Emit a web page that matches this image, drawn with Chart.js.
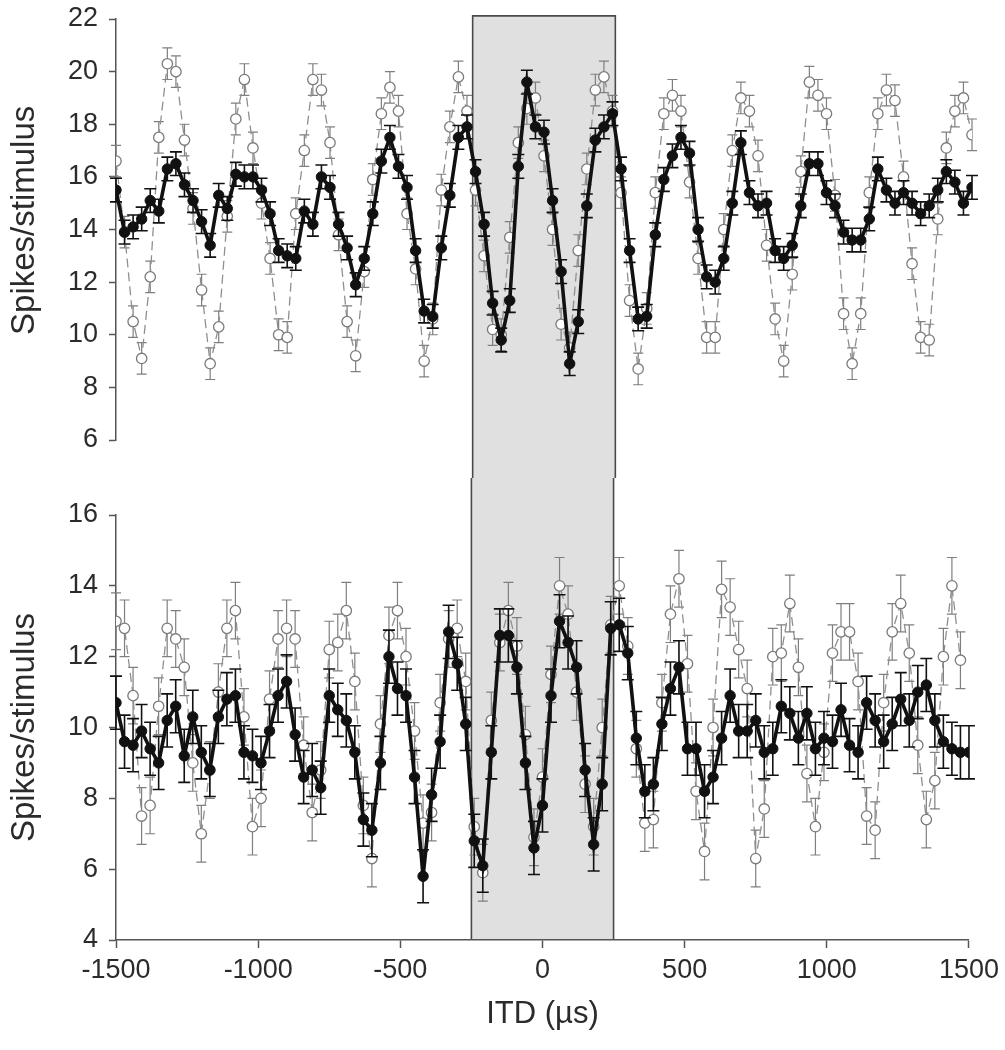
<!DOCTYPE html>
<html>
<head>
<meta charset="utf-8">
<script src="https://cdn.jsdelivr.net/npm/chart.js@4.4.0/dist/chart.umd.min.js"></script>
<style>
body { margin: 0; background: #fff; }
#wrap { position: relative; width: 1005px; height: 1050px; }
canvas { position: absolute; left: 0; }
#topChart { top: 0; }
#bottomChart { top: 478px; }
</style>
</head>
<body>
<div id="wrap">
<canvas id="topChart" width="1005" height="478"></canvas>
<canvas id="bottomChart" width="1005" height="572"></canvas>
</div>
<script>
// ITD values (microseconds), one per measured point
var itd = [
  -1500, -1470, -1440, -1410, -1380, -1350, -1320, -1290, -1260, -1230,
  -1200, -1170, -1140, -1110, -1080, -1050, -1020, -990, -960, -930,
  -900, -870, -840, -810, -780, -750, -720, -690, -660, -630,
  -600, -570, -540, -510, -480, -450, -420, -390, -360, -330,
  -300, -270, -240, -210, -180, -150, -120, -90, -60, -30,
  0, 30, 60, 90, 120, 150, 180, 210, 240, 270,
  300, 330, 360, 390, 420, 450, 480, 510, 540, 570,
  600, 630, 660, 690, 720, 750, 780, 810, 840, 870,
  900, 930, 960, 990, 1020, 1050, 1080, 1110, 1140, 1170,
  1200, 1230, 1260, 1290, 1320, 1350, 1380, 1410, 1440, 1470,
  1500
];

// upper panel
var topFilled = [
  15.5, 13.9, 14.1, 14.4, 15.1, 14.7, 16.3, 16.5, 15.7, 15.1,
  14.3, 13.4, 15.3, 14.8, 16.1, 16.0, 16.0, 15.5, 14.6, 13.2,
  13.0, 12.9, 14.7, 14.2, 16.0, 15.6, 14.2, 13.3, 11.9, 12.9,
  14.6, 16.6, 17.5, 16.4, 15.6, 13.2, 10.9, 10.7, 13.3, 15.3,
  17.5, 17.9, 16.2, 14.2, 11.2, 9.8, 11.3, 16.4, 19.6, 17.9,
  17.7, 15.1, 12.4, 8.9, 10.5, 14.9, 17.4, 17.9, 18.4, 16.3,
  13.2, 10.6, 10.7, 13.8, 15.9, 16.8, 17.5, 16.9, 14.0, 12.2,
  12.0, 12.9, 15.0, 17.3, 15.4, 14.9, 15.0, 13.2, 12.9, 13.4,
  14.9, 16.5, 16.5, 15.4, 14.9, 13.9, 13.6, 13.6, 14.4, 16.3,
  15.5, 15.0, 15.4, 15.0, 14.6, 14.9, 15.5, 16.2, 15.8, 15.0,
  15.6
];
var topOpen = [
  16.6, 13.9, 10.5, 9.1, 12.2, 17.5, 20.3, 20.0, 17.4, 14.8,
  11.7, 8.9, 10.3, 14.5, 18.2, 19.7, 17.1, 15.0, 12.9, 10.0,
  9.9, 14.6, 17.0, 19.7, 19.3, 17.3, 13.8, 10.5, 9.2, 12.4,
  15.9, 18.4, 19.4, 18.5, 14.6, 12.5, 9.0, 10.6, 15.5, 17.9,
  19.8, 18.5, 15.5, 13.0, 10.2, 10.0, 13.7, 17.3, 18.6, 19.0,
  16.8, 14.0, 10.4, 9.5, 13.2, 16.3, 19.3, 19.8, 18.5, 15.4,
  11.3, 8.7, 11.0, 15.4, 18.4, 19.1, 18.5, 15.8, 12.9, 9.9,
  9.9, 14.0, 17.0, 19.0, 18.5, 16.8, 13.4, 10.6, 9.0, 12.3,
  16.2, 19.6, 19.1, 18.4, 15.3, 10.8, 8.9, 10.8, 15.4, 18.4,
  19.3, 18.9, 16.0, 12.7, 9.9, 9.8, 14.4, 17.1, 18.5, 19.0,
  17.6
];

// lower panel
var bottomFilled = [
  10.7, 9.6, 9.5, 9.9, 9.4, 9.0, 10.2, 10.6, 9.2, 10.3,
  9.3, 8.8, 10.3, 10.8, 10.9, 9.3, 9.2, 9.0, 9.9, 10.9,
  11.3, 9.8, 8.6, 8.8, 8.3, 10.9, 10.5, 10.2, 9.3, 7.4,
  7.1, 9.0, 12.0, 11.1, 10.9, 8.6, 5.8, 8.1, 9.6, 12.7,
  11.8, 10.1, 6.8, 6.1, 9.3, 12.6, 12.6, 11.7, 9.0, 6.6,
  7.8, 10.9, 13.0, 12.4, 11.7, 8.8, 6.7, 8.4, 12.8, 12.9,
  12.1, 9.7, 8.2, 8.4, 10.1, 11.1, 11.7, 9.4, 9.4, 8.2,
  8.6, 9.7, 10.9, 9.9, 9.9, 10.2, 9.3, 9.4, 10.6, 10.4,
  9.7, 10.4, 9.4, 9.7, 9.6, 10.5, 9.5, 9.3, 10.7, 10.2,
  9.6, 10.1, 10.8, 10.2, 11.0, 11.2, 10.2, 9.6, 9.4, 9.3,
  9.3
];
var bottomOpen = [
  13.0, 12.8, 10.9, 7.5, 7.8, 10.6, 12.8, 12.5, 11.7, 9.0,
  7.0, 8.8, 11.0, 12.8, 13.3, 10.3, 7.2, 8.0, 10.8, 12.5,
  12.8, 12.5, 9.5, 7.6, 8.8, 12.2, 12.4, 13.3, 11.3, 7.8,
  6.3, 10.1, 12.6, 13.3, 12.0, 9.9, 7.3, 7.6, 10.7, 12.5,
  12.8, 11.3, 7.2, 5.9, 10.2, 12.4, 13.3, 12.3, 9.8, 6.9,
  8.6, 11.5, 14.0, 13.2, 11.0, 8.4, 7.2, 10.0, 12.9, 14.0,
  12.3, 9.4, 7.3, 7.4, 10.7, 13.2, 14.2, 11.8, 8.2, 6.5,
  10.0, 13.9, 13.4, 12.2, 11.1, 6.3, 7.7, 12.0, 12.1, 13.5,
  11.7, 8.7, 7.2, 9.3, 12.1, 12.7, 12.7, 11.3, 7.5, 7.1,
  10.7, 12.7, 13.5, 12.1, 9.5, 7.4, 8.5, 12.0, 14.0, 11.9,
  null
];

// half length of the error bars
var topFilledErr = 0.45;
var topOpenErr = 0.6;
var bottomFilledErr = 0.75;
var bottomOpenErr = 0.8;

var xTicks = [-1500, -1000, -500, 0, 500, 1000, 1500];
var shadeFrom = -250;
var shadeTo = 250;
var shadeTop = 22.12;

var fontFamily = "'Liberation Sans', Arial, sans-serif";
var textColor = '#2b2b2b';
var axisColor = '#555';

function points(ys) {
  return itd.map(function (x, i) { return { x: x, y: ys[i] }; });
}

function filledSet(ys, err) {
  return {
    data: points(ys),
    borderColor: '#111',
    borderWidth: 3.6,
    pointRadius: 5.2,
    pointBackgroundColor: '#111',
    pointBorderColor: '#111',
    pointBorderWidth: 1,
    err: err, errColor: '#111', errWidth: 1.6, capHalf: 6,
    order: 0
  };
}

function openSet(ys, err) {
  return {
    data: points(ys),
    borderColor: '#8f8f8f',
    borderWidth: 1.3,
    borderDash: [9, 5],
    pointRadius: 5.2,
    pointBackgroundColor: '#fff',
    pointBorderColor: '#7a7a7a',
    pointBorderWidth: 1.3,
    spanGaps: false,
    err: err, errColor: '#7f7f7f', errWidth: 1.2, capHalf: 5,
    order: 1
  };
}

var shadePlugin = {
  id: 'shade',
  beforeDraw: function (chart, args, opts) {
    var ctx = chart.ctx;
    var xs = chart.scales.x, ys = chart.scales.y;
    var x1 = xs.getPixelForValue(shadeFrom);
    var x2 = xs.getPixelForValue(shadeTo);
    var y1 = opts.closeTop ? ys.getPixelForValue(shadeTop) : 0;
    var y2 = opts.closeTop ? chart.height : ys.getPixelForValue(ys.min);
    ctx.save();
    ctx.fillStyle = '#e0e0e0';
    ctx.fillRect(x1, y1, x2 - x1, y2 - y1);
    ctx.strokeStyle = '#4a4a4a';
    ctx.lineWidth = 1.6;
    ctx.beginPath();
    ctx.moveTo(x1, y2);
    ctx.lineTo(x1, y1);
    if (opts.closeTop) ctx.lineTo(x2, y1); else ctx.moveTo(x2, y1);
    ctx.lineTo(x2, y2);
    ctx.stroke();
    ctx.restore();
  }
};

var errorBarPlugin = {
  id: 'errorBars',
  beforeDatasetDraw: function (chart, args) {
    var ds = chart.data.datasets[args.index];
    var ctx = chart.ctx;
    var xs = chart.scales.x, ys = chart.scales.y;
    ctx.save();
    ctx.strokeStyle = ds.errColor;
    ctx.lineWidth = ds.errWidth;
    ctx.beginPath();
    ds.data.forEach(function (p) {
      if (p.y == null) return;
      var x = xs.getPixelForValue(p.x);
      var hi = ys.getPixelForValue(p.y + ds.err);
      var lo = ys.getPixelForValue(p.y - ds.err);
      ctx.moveTo(x, hi); ctx.lineTo(x, lo);
      ctx.moveTo(x - ds.capHalf, hi); ctx.lineTo(x + ds.capHalf, hi);
      ctx.moveTo(x - ds.capHalf, lo); ctx.lineTo(x + ds.capHalf, lo);
    });
    ctx.stroke();
    ctx.restore();
  }
};

function yScale(min, max, titleText) {
  return {
    min: min, max: max,
    afterFit: function (s) {
      s.width = 116;
      s.paddingTop = 0;
      s.paddingBottom = 0;
    },
    ticks: { stepSize: 2, color: textColor, padding: 11, font: { family: fontFamily, size: 27 } },
    grid: { drawOnChartArea: false, drawTicks: true, tickLength: 7, tickColor: axisColor, tickWidth: 1.5 },
    border: { display: true, color: axisColor, width: 1.5 },
    title: { display: true, text: titleText, color: textColor, padding: { top: 5 }, font: { family: fontFamily, size: 33 } }
  };
}

function baseOptions() {
  return {
    responsive: false,
    animation: false,
    devicePixelRatio: 1,
    elements: { line: { tension: 0 } },
    plugins: { legend: { display: false }, tooltip: { enabled: false } }
  };
}

var topOpts = baseOptions();
topOpts.layout = { padding: { left: 0, right: 33, top: 19, bottom: 38 } };
topOpts.plugins.shade = { closeTop: true };
topOpts.scales = {
  x: { type: 'linear', min: -1500, max: 1500, display: false },
  y: yScale(6, 22, '  Spikes/stimulus')
};

new Chart(document.getElementById('topChart'), {
  type: 'line',
  data: { datasets: [filledSet(topFilled, topFilledErr), openSet(topOpen, topOpenErr)] },
  options: topOpts,
  plugins: [shadePlugin, errorBarPlugin]
});

var bottomOpts = baseOptions();
bottomOpts.layout = { padding: { left: 0, right: 33, top: 37, bottom: 0 } };
bottomOpts.plugins.shade = { closeTop: false };
bottomOpts.scales = {
  x: {
    type: 'linear', min: -1500, max: 1500,
    afterFit: function (s) { s.height = 110; },
    afterBuildTicks: function (s) { s.ticks = xTicks.map(function (v) { return { value: v }; }); },
    ticks: {
      color: textColor, padding: 6, maxRotation: 0,
      font: { family: fontFamily, size: 27 },
      callback: function (v) { return String(v); }
    },
    grid: { drawOnChartArea: false, drawTicks: true, tickLength: 8, tickColor: axisColor, tickWidth: 1.5 },
    border: { display: true, color: axisColor, width: 1.5 },
    title: { display: true, text: 'ITD (µs)', color: textColor, padding: { bottom: 17 }, font: { family: fontFamily, size: 31 } }
  },
  y: yScale(4, 16, 'Spikes/stimulus')
};

new Chart(document.getElementById('bottomChart'), {
  type: 'line',
  data: { datasets: [filledSet(bottomFilled, bottomFilledErr), openSet(bottomOpen, bottomOpenErr)] },
  options: bottomOpts,
  plugins: [shadePlugin, errorBarPlugin]
});
</script>
</body>
</html>
